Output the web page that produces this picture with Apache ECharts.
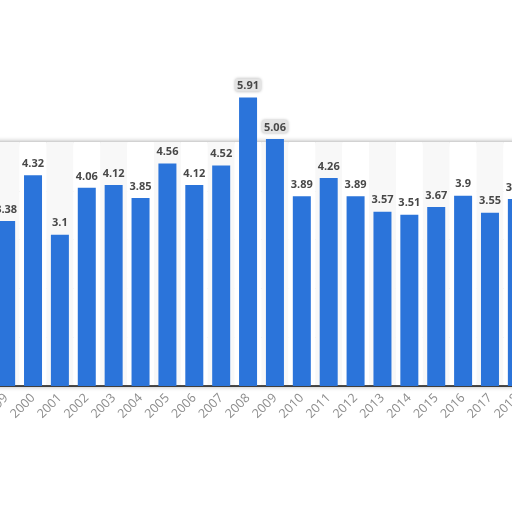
<!DOCTYPE html>
<html>
<head>
<meta charset="utf-8">
<script src="https://cdn.jsdelivr.net/npm/echarts@6/dist/echarts.min.js"></script>
<style>html,body{margin:0;padding:0;background:#fff}#c{width:512px;height:512px}</style>
</head>
<body>
<div id="c"></div>
<script>
var years = ['1999','2000','2001','2002','2003','2004','2005','2006','2007','2008','2009','2010','2011','2012','2013','2014','2015','2016','2017','2018'];
var values = [3.38,4.32,3.1,4.06,4.12,3.85,4.56,4.12,4.52,5.91,5.06,3.89,4.26,3.89,3.57,3.51,3.67,3.9,3.55,3.83];
var yTicks = [0,1,2,3,4,5];

var chart = echarts.init(document.getElementById('c'));
var yMax = yTicks[yTicks.length-1];
var data = values.map(function(v){
  var item = {value: v};
  if (v > yMax) {
    item.label = {backgroundColor:'#e4e4e4', borderRadius:3, padding:[2,2,0,2], shadowBlur:3, shadowColor:'rgba(0,0,0,0.3)'};
  }
  return item;
});
chart.setOption({
  animation:false,
  grid:{left:-7.3, right:-18.3, top:142, bottom:126, outerBoundsMode:'none', containLabel:false,
        show:true, backgroundColor:'#fff',
        borderColor:'#d0d0d0', borderWidth:1.5, shadowBlur:5, shadowColor:'rgba(0,0,0,0.25)'},
  xAxis:{type:'category', data:years,
    axisLine:{lineStyle:{color:'#111', width:1.5}},
    axisTick:{show:false},
    axisLabel:{interval:0, rotate:45, color:'#8c8c8c', fontSize:12.5, fontFamily:'Open Sans', margin:10},
    splitArea:{show:true, areaStyle:{color:['#f8f8f8','#ffffff']}}
  },
  yAxis:{type:'value', min:yTicks[0], max:yMax, interval:1,
    axisLabel:{show:false}, axisLine:{show:false}, axisTick:{show:false},
    splitLine:{lineStyle:{color:'#d0d0d0', type:'dotted'}}
  },
  series:[{type:'bar', data:data, barWidth:18, clip:false,
    itemStyle:{color:'#2b74da'},
    label:{show:true, position:'top', distance:6, color:'#484848', fontSize:11, fontWeight:'bold', fontFamily:'Open Sans'}
  }]
});
</script>
</body>
</html>
